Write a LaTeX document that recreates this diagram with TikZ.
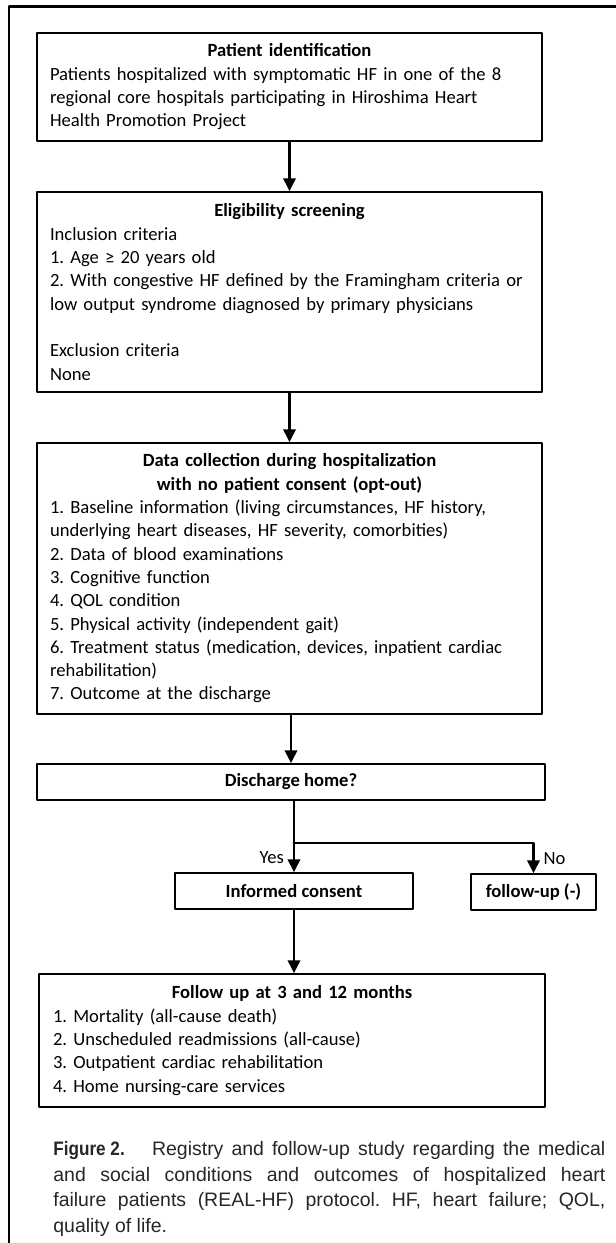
\documentclass[tikz,border=0pt]{standalone}
\usepackage{fontspec}
\usepackage{graphicx}
\setmainfont{Carlito}
\newfontfamily\capfont{Liberation Sans}
\usetikzlibrary{arrows.meta}
\newlength\pxu
\setlength\pxu{0.575pt}
\newcommand{\boxhead}[1]{\makebox[\hsize][c]{\bfseries #1}}
\frenchspacing

\begin{document}
\begin{tikzpicture}[line cap=round,line join=round,>={Triangle[width=7pt,length=7.5pt]},x=0.575pt,y=-0.575pt,
  box/.style={draw,line width=0.8pt,inner xsep=0pt,inner ysep=0pt,align=left,font=\fontsize{10.7}{13.4}\selectfont},
  flow/.style={line width=1.7pt},
  lbl/.style={font=\fontsize{10.7}{13.4}\selectfont}]
\useasboundingbox (0,0) rectangle (616,1243);
% frame
\draw [line width=1.5pt] (9,1243) -- (9,6.5) -- (616,6.5);
% boxes
\node[box,minimum width=505\pxu,minimum height=108\pxu,text width=479\pxu] (ident) at (289.5,87) {\boxhead{Patient identification}\\
Patients hospitalized with symptomatic HF in one of the 8\\
regional core hospitals participating in Hiroshima Heart\\
Health Promotion Project};
\node[box,minimum width=505\pxu,minimum height=200\pxu,text width=479\pxu] (elig) at (289.5,292) {\boxhead{Eligibility screening}\\
Inclusion criteria\\
1. Age ≥ 20 years old\\
\mbox{2. With congestive HF defined by the Framingham criteria or}\\
low output syndrome diagnosed by primary physicians\\[13.4pt]
Exclusion criteria\\
None};
\node[box,minimum width=505\pxu,minimum height=271\pxu,text width=479\pxu] (collect) at (289.5,578.5) {\boxhead{Data collection during hospitalization}\\
\boxhead{with no patient consent (opt-out)}\\
1. Baseline information (living circumstances, HF history,\\
underlying heart diseases, HF severity, comorbities)\\
2. Data of blood examinations\\
3. Cognitive function\\
4. QOL condition\\
5. Physical activity (independent gait)\\
\mbox{6. Treatment status (medication, devices, inpatient cardiac}\\
rehabilitation)\\
7. Outcome at the discharge};
\node[box,align=center,minimum width=508\pxu,minimum height=36\pxu] (discharge) at (291,782) {\textbf{Discharge home?}};
\node[box,align=center,minimum width=238\pxu,minimum height=36\pxu] (consent) at (294,891) {\textbf{Informed consent}};
\node[box,align=center,minimum width=125\pxu,minimum height=36\pxu] (nofollow) at (533.5,892) {\textbf{follow-up (-)}};
\node[box,minimum width=506\pxu,minimum height=133\pxu,text width=478\pxu] (followup) at (292,1040.5) {\boxhead{Follow up at 3 and 12 months}\\
1. Mortality (all-cause death)\\
2. Unscheduled readmissions (all-cause)\\
3. Outpatient cardiac rehabilitation\\
4. Home nursing-care services};
% connectors
\coordinate (split) at (294,843);
\draw [flow,->] (ident) -- (elig);
\draw [flow,->] (elig) -- (collect);
\draw [flow,->] (collect.south -| discharge.north) -- (discharge.north);
\draw [flow] (discharge.south -| split) -- (split);
\draw [flow,->] (split) -- (consent.north) node[lbl,midway,left,inner sep=5pt] {Yes};
\draw [flow,->] (split) -| (nofollow.north) node[lbl,pos=0.75,right,inner sep=5pt] {No};
\draw [flow,->] (consent.south) -- (consent.south |- followup.north);
% caption
\node[anchor=north west,inner sep=0pt,text width=552\pxu,align=justify,text=black!85,font=\capfont\fontsize{11.2}{14.7}\selectfont] (caption) at (53,1141) {{\bfseries\scalebox{0.88}[1]{Figure 2.}}\hspace{1.4em}Registry and follow-up study regarding the medical\linebreak
and social conditions and outcomes of hospitalized heart\linebreak
failure patients (REAL-HF) protocol. HF, heart failure; QOL,\linebreak
quality of life.};
\end{tikzpicture}
\end{document}
